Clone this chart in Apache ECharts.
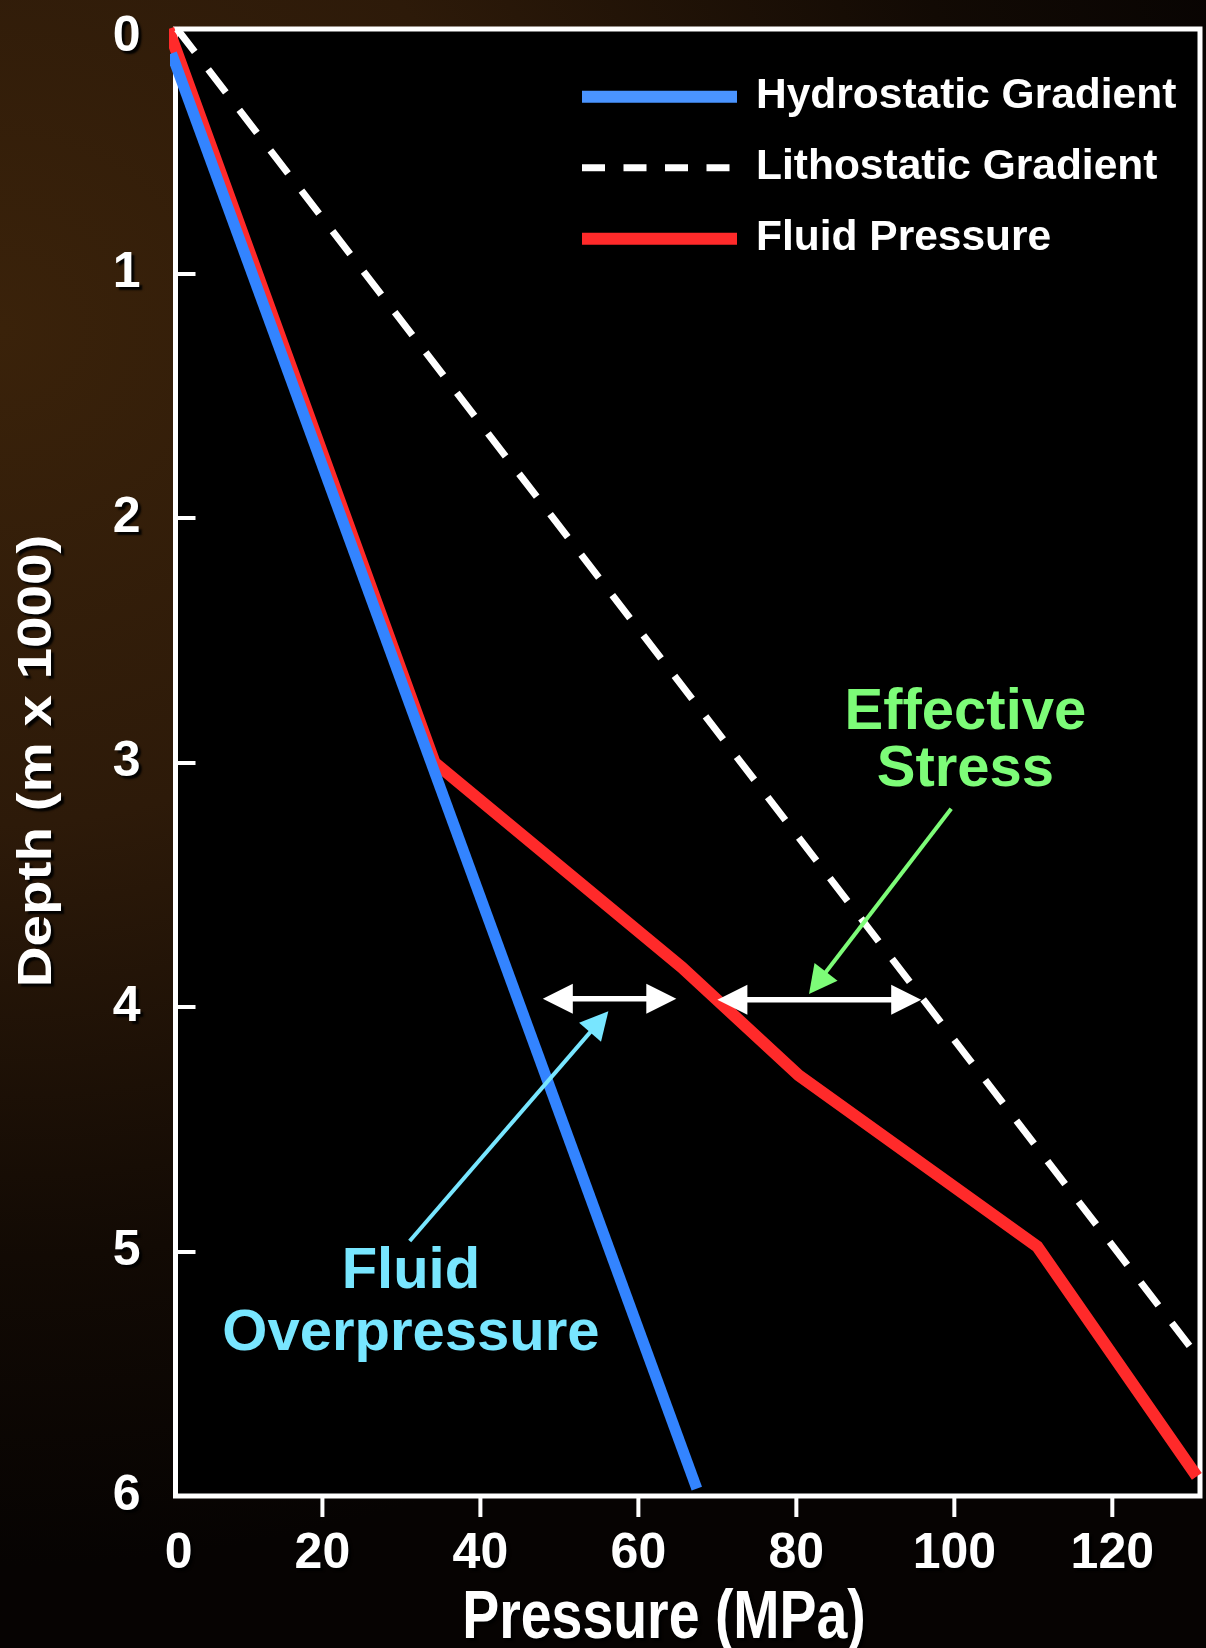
<!DOCTYPE html>
<html><head><meta charset="utf-8">
<script src="https://cdn.jsdelivr.net/npm/echarts@6/dist/echarts.min.js"></script>
<style>
html,body{margin:0;padding:0;width:1206px;height:1648px;overflow:hidden;
background: radial-gradient(ellipse 110% 75% at 0% 20%, #3a220a 0%, #2d1a09 40%, #120a04 75%, #060302 100%);}
#chart{width:1206px;height:1648px;}
</style></head><body><div id="chart"></div>
<script>
// ---- data ----
const X_MIN = 1.4, X_MAX = 131.1, Y_MIN = 0, Y_MAX = 6;
const xLabelValues = [1.8, 20, 40, 60, 80, 100, 120];
const xTickLabels = ['0', '20', '40', '60', '80', '100', '120'];
const xTickValues = [20, 40, 60, 80, 100, 120];
const yTickLabels = ['0', '1', '2', '3', '4', '5', '6'];
const seriesNames = ['Hydrostatic Gradient', 'Lithostatic Gradient', 'Fluid Pressure'];
const hydrostatic = [[0.9, 0.1], [67.4, 5.97]];
const lithostatic = [[1.6, 0], [131.3, 5.45]];
const fluidPressure = [[0.5, 0], [34.2, 3.0], [65.5, 3.838], [80.3, 4.28], [110.5, 4.98], [130.7, 5.92]];
const doubleArrows = [[47.9, 3.966, 64.8, 3.966], [70.0, 3.97, 95.8, 3.97]];
const overpressureArrow = [[31.05, 4.957, 56.2, 4.017]];
const stressArrow = [[99.6, 3.189, 81.6, 3.947]];
const annotationTexts = ['Fluid\nOverpressure', 'Effective\nStress'];
const annotationPos = [[31.2, 5.21], [101.4, 2.915]];
const xTitle = 'Pressure (MPa)';
const yTitle = 'Depth (m x 1000)';

// ---- styles ----
const FONT = '"Liberation Sans", Arial, Helvetica, sans-serif';
const BLUE = '#3384ff', RED = '#ff2a2a', CYAN = '#78e6ff', GREEN = '#7dfc78';
const annotationColors = [CYAN, GREEN];
const annotationLineHeights = [62, 57];
const shadow = {textShadowColor: 'rgba(0,0,0,0.95)', textShadowBlur: 2, textShadowOffsetX: 3, textShadowOffsetY: 3};

function arrowRender(opts) {
  return function (params, api) {
    const a = api.coord([api.value(0), api.value(1)]);
    const b = api.coord([api.value(2), api.value(3)]);
    const dx = b[0] - a[0], dy = b[1] - a[1];
    const len = Math.hypot(dx, dy);
    const ux = dx / len, uy = dy / len, nx = -uy, ny = ux;
    const L = opts.headLen, W = opts.headWidth / 2;
    const s = opts.both ? [a[0] + ux * L * 0.8, a[1] + uy * L * 0.8] : a;
    const e = [b[0] - ux * L * 0.8, b[1] - uy * L * 0.8];
    const children = [{type: 'line', shape: {x1: s[0], y1: s[1], x2: e[0], y2: e[1]},
      style: {stroke: opts.color, lineWidth: opts.width}}];
    function head(tip, dirx, diry) {
      const bx = tip[0] - dirx * L, by = tip[1] - diry * L;
      return {type: 'polygon', shape: {points: [[tip[0], tip[1]], [bx + nx * W, by + ny * W], [bx - nx * W, by - ny * W]]},
        style: {fill: opts.color}};
    }
    children.push(head(b, ux, uy));
    if (opts.both) children.push(head(a, -ux, -uy));
    return {type: 'group', children: children};
  };
}

// x-axis tick marks below the plot frame, placed through the x scale
function tickRender(params, api) {
  const p = api.coord([api.value(0), api.value(1)]);
  return {type: 'line', shape: {x1: p[0], y1: p[1] + 2, x2: p[0], y2: p[1] + 21},
    style: {stroke: '#fff', lineWidth: 4}};
}

function findIdx(arr, v) {
  for (let i = 0; i < arr.length; i++) if (Math.abs(arr[i] - v) < 1e-6) return i;
  return -1;
}

const hiddenSymbol = {color: 'rgba(0,0,0,0)', borderWidth: 0, opacity: 0};

const chart = echarts.init(document.getElementById('chart'), null, {renderer: 'canvas'});
chart.setOption({
  backgroundColor: 'transparent',
  animation: false,
  grid: {left: 175.5, right: 6, top: 29, bottom: 152, show: true, backgroundColor: '#000',
    borderColor: '#fff', borderWidth: 5, containLabel: false, outerBoundsMode: 'none'},
  legend: {
    orient: 'vertical', left: 576, top: 72.7, padding: 0, itemWidth: 155, itemHeight: 12, itemGap: 23,
    selectedMode: false,
    itemStyle: hiddenSymbol,
    data: [
      {name: seriesNames[0], lineStyle: {width: 12, color: '#4a94ff'}, itemStyle: hiddenSymbol},
      {name: seriesNames[1], lineStyle: {width: 7, type: [23, 18.5], color: '#fff'}, itemStyle: hiddenSymbol},
      {name: seriesNames[2], lineStyle: {width: 12, color: RED}, itemStyle: hiddenSymbol}
    ],
    textStyle: {color: '#fff', fontSize: 42.5, fontWeight: 'bold', fontFamily: FONT,
      lineHeight: 44, padding: [0, 0, 4, 14]}
  },
  xAxis: {
    type: 'value', min: X_MIN, max: X_MAX, position: 'bottom',
    axisLine: {show: false, onZero: false}, splitLine: {show: false},
    axisTick: {show: false},
    axisLabel: Object.assign({customValues: xLabelValues, color: '#fff', fontSize: 50, fontWeight: 'bold',
      fontFamily: FONT, margin: 33,
      formatter: function (v) { const i = findIdx(xLabelValues, v); return i >= 0 ? xTickLabels[i] : ''; }}, shadow)
  },
  yAxis: {
    type: 'value', inverse: true, min: Y_MIN, max: Y_MAX, interval: 1, position: 'left',
    axisLine: {show: false, onZero: false}, splitLine: {show: false},
    axisTick: {show: true, inside: true, length: 20, lineStyle: {color: '#fff', width: 4}},
    axisLabel: Object.assign({color: '#fff', fontSize: 50, fontWeight: 'bold', fontFamily: FONT, margin: 35,
      formatter: function (v) { const t = yTickLabels[Math.round(v)]; return v === 0 ? '{top|' + t + '}' : t; },
      rich: {top: Object.assign({color: '#fff', fontSize: 50, fontWeight: 'bold', fontFamily: FONT, padding: [16, 0, 0, 0]}, shadow)}}, shadow)
  },
  series: [
    {name: seriesNames[2], type: 'line', data: fluidPressure, symbol: 'none', color: RED,
      lineStyle: {color: RED, width: 12, cap: 'butt', join: 'miter'}, z: 2, clip: false, silent: true},
    {name: seriesNames[0], type: 'line', data: hydrostatic, symbol: 'none', color: BLUE,
      lineStyle: {color: BLUE, width: 11, cap: 'butt'}, z: 3, clip: false, silent: true},
    {name: seriesNames[1], type: 'line', data: lithostatic, symbol: 'none', color: '#fff',
      lineStyle: {color: '#fff', width: 7, type: [29, 22], cap: 'butt'}, z: 4, clip: false, silent: true},
    {type: 'custom', data: xTickValues.map(function (v) { return [v, Y_MAX]; }), encode: {x: 0, y: 1},
      silent: true, clip: false, z: 1, renderItem: tickRender},
    {type: 'custom', data: doubleArrows, encode: {x: [0, 2], y: [1, 3]}, silent: true, z: 5,
      renderItem: arrowRender({color: '#fff', width: 5.5, headLen: 30, headWidth: 30, both: true})},
    {type: 'custom', data: overpressureArrow, encode: {x: [0, 2], y: [1, 3]}, silent: true, z: 5,
      renderItem: arrowRender({color: CYAN, width: 4, headLen: 28, headWidth: 29, both: false})},
    {type: 'custom', data: stressArrow, encode: {x: [0, 2], y: [1, 3]}, silent: true, z: 5,
      renderItem: arrowRender({color: GREEN, width: 4, headLen: 28, headWidth: 29, both: false})},
    {type: 'scatter', symbolSize: 0, silent: true, z: 6,
      itemStyle: {opacity: 1},
      data: annotationPos.map(function (p, i) {
        return {value: p, label: {formatter: annotationTexts[i], color: annotationColors[i], lineHeight: annotationLineHeights[i]}};
      }),
      label: {show: true, position: 'inside', fontSize: 58, fontWeight: 'bold', fontFamily: FONT, opacity: 1,
        align: 'center', verticalAlign: 'middle'}}
  ],
  graphic: [
    {type: 'text', x: 664, y: 1619, scaleX: 0.815, silent: true,
      style: Object.assign({text: xTitle, font: 'bold 68px ' + FONT, fill: '#fff', align: 'center', verticalAlign: 'middle'}, shadow)},
    {type: 'text', x: 38, y: 761, rotation: Math.PI / 2, scaleX: 1.178, silent: true,
      style: Object.assign({text: yTitle, font: 'bold 48px ' + FONT, fill: '#fff', align: 'center', verticalAlign: 'middle'}, shadow)}
  ]
});
</script></body></html>
